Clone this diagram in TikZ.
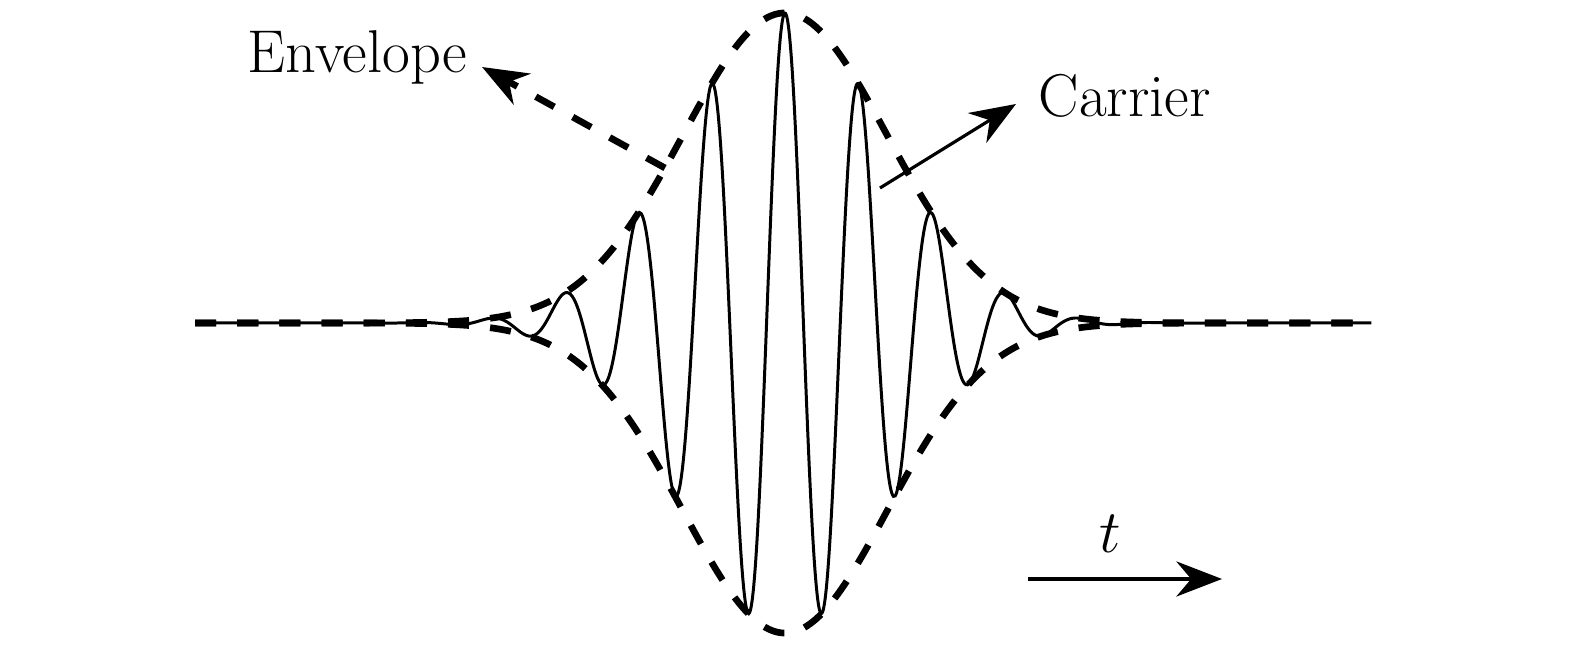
\documentclass[tikz,border=0pt]{standalone}
\usepackage{amsmath}
\usepackage{xcolor}
\usepackage{tikz}
\usetikzlibrary{calc}
\usetikzlibrary{arrows.meta,positioning}

\begin{document}
\begin{tikzpicture}[transform shape,scale=1]
		\useasboundingbox (0,0) rectangle (15.75,6.5);
		% pulse: carrier under a gaussian envelope
		\draw [line width=0.85pt] plot[domain=1.95:13.72,samples=700,smooth] (\x,{3.27+3.1*exp(-(\x-7.85)*(\x-7.85)/2.08)*cos(360*(\x-7.85)/0.737)});
		\draw [line width=1.9pt,dash pattern=on 6pt off 6pt] plot[domain=1.95:13.72,samples=200,smooth] (\x,{3.27+3.1*exp(-(\x-7.85)*(\x-7.85)/2.08)});
		\draw [line width=1.9pt,dash pattern=on 6pt off 6pt] plot[domain=1.95:13.72,samples=200,smooth] (\x,{3.27-3.1*exp(-(\x-7.85)*(\x-7.85)/2.08)});
		% labels
		\node [anchor=base west,inner sep=0pt] (envl) at (2.47,5.77) {\fontsize{17.2}{20}\selectfont Envelope};
		\node [anchor=base west,inner sep=0pt] (carr) at (10.38,5.33) {\fontsize{17.2}{20}\selectfont Carrier};
		\coordinate (envstart) at (6.65,4.82);
		\coordinate (envtip) at (4.82,5.83);
		\coordinate (carstart) at (8.80,4.62);
		\coordinate (cartip) at (10.16,5.46);
		\draw [-{Stealth[length=13pt,width=10pt]},line width=1.9pt,dash pattern=on 6pt off 6pt](envstart) -- (envtip);
		\draw [-{Stealth[length=13pt,width=10pt]},line width=0.9pt](carstart) -- (cartip);
		% time axis
		\coordinate (tstart) at (10.28,0.71);
		\coordinate (tend) at (12.22,0.71);
		\draw [-{Stealth[length=13pt,width=10pt]},line width=0.9pt](tstart) -- (tend);
		\node [anchor=base,inner sep=0pt] (tlab) at (11.10,0.97) {\fontsize{17.2}{20}\selectfont $t$};
	\end{tikzpicture}
\end{document}
